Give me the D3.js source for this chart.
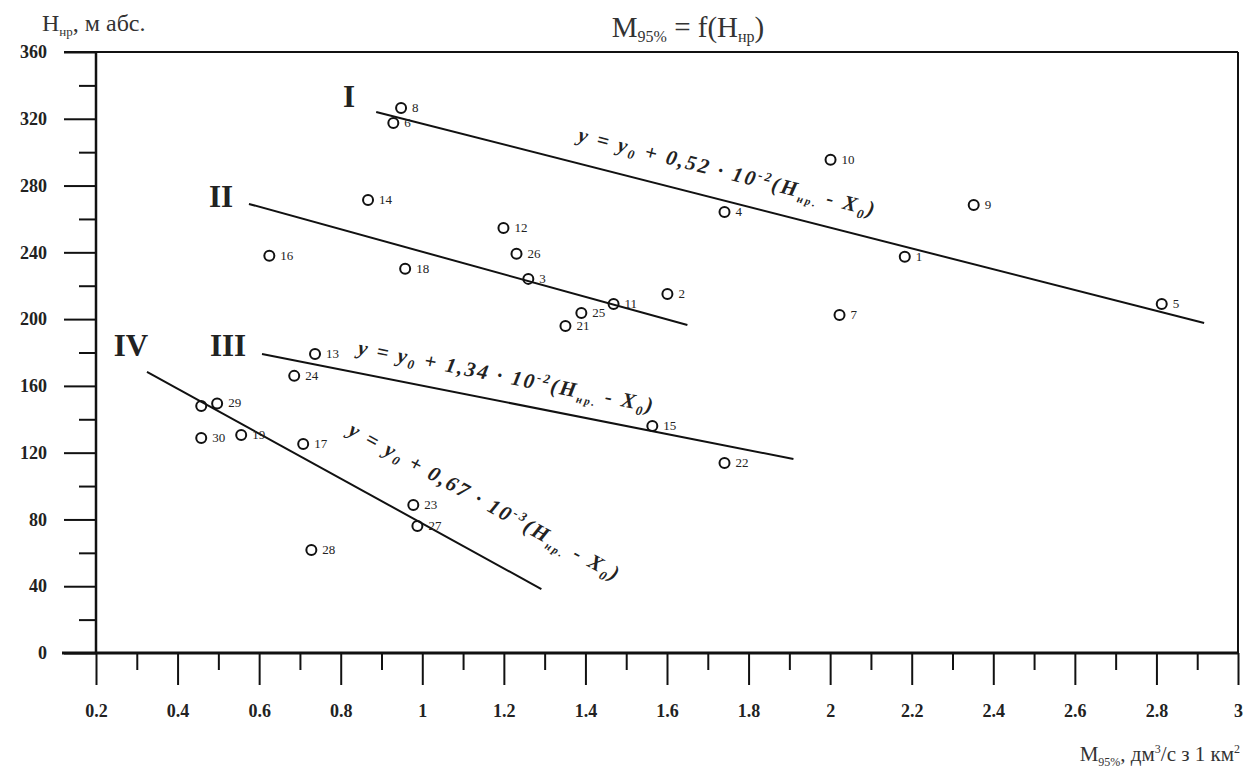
<!DOCTYPE html>
<html>
<head>
<meta charset="utf-8">
<script src="https://cdn.jsdelivr.net/npm/d3@7"></script>
<style>
  body { margin: 0; background: #fff; }
</style>
</head>
<body>
<div id="chart"></div>
<script>
// data
var ptLabels = ["8","6","10","9","4","1","5","7","14","12","26","16","18","3","2","11","25","21","13","24","15","22","","29","30","19","17","23","27","28"];
var ptX = [0.948,0.929,2.001,2.352,1.741,2.183,2.813,2.023,0.867,1.199,1.231,0.625,0.958,1.26,1.601,1.469,1.39,1.351,0.737,0.686,1.564,1.741,0.458,0.497,0.458,0.556,0.708,0.978,0.988,0.728];
var ptY = [326.5,317.5,295.4,268.4,264.2,237.3,209.1,202.5,271.4,254.6,239.1,237.9,230.1,224.1,215.1,209.1,203.7,195.9,179.1,166.0,136.0,113.8,148,149.5,128.8,130.6,125.2,88.7,76.1,61.7];

var lineNames = ["I","II","III","IV"];
var lineX1 = [0.887,0.575,0.607,0.325];
var lineY1 = [324.1,269.0,179.1,168.4];
var lineX2 = [2.917,1.650,1.910,1.292];
var lineY2 = [197.7,196.5,116.2,38.3];

var yMajor = d3.range(0, 361, 40);
var yMinor = d3.range(20, 360, 40);
var xMajor = [0.2,0.4,0.6,0.8,1,1.2,1.4,1.6,1.8,2,2.2,2.4,2.6,2.8,3];
var xMinor = [0.3,0.5,0.7,0.9,1.1,1.3,1.5,1.7,1.9,2.1,2.3,2.5,2.7,2.9];

var serif = "'Liberation Serif', 'DejaVu Serif', serif";
var svgWidth = 1256, svgHeight = 769;
var svg = d3.select("#chart").append("svg").attr("width", svgWidth).attr("height", svgHeight)
  .style("font-family", serif);

var x = d3.scaleLinear().domain([0.2, 3]).range([96, 1238]);
var y = d3.scaleLinear().domain([0, 360]).range([653, 52]);

// frame (top + right)
svg.append("line").attr("x1", x(0.2) - 32).attr("x2", x(3)).attr("y1", y(360)).attr("y2", y(360)).attr("stroke", "#111").attr("stroke-width", 2);
svg.append("line").attr("x1", x(3)).attr("x2", x(3)).attr("y1", y(360)).attr("y2", y(0)).attr("stroke", "#111").attr("stroke-width", 2);

// y axis
svg.append("g").attr("transform", `translate(${x(0.2)},0)`)
  .call(d3.axisLeft(y).tickValues(yMajor).tickSize(32).tickPadding(17).tickFormat(d3.format("d")));
svg.append("g").attr("transform", `translate(${x(0.2)},0)`)
  .call(d3.axisLeft(y).tickValues(yMinor).tickSize(17).tickFormat(""));

// x axis
svg.append("g").attr("transform", `translate(0,${y(0)})`)
  .call(d3.axisBottom(x).tickValues(xMajor).tickSize(32).tickPadding(19).tickFormat(d => String(d)));
svg.append("g").attr("transform", `translate(0,${y(0)})`)
  .call(d3.axisBottom(x).tickValues(xMinor).tickSize(17).tickFormat(""));

svg.selectAll(".domain").remove();
svg.selectAll(".tick line").attr("stroke", "#111").attr("stroke-width", 2);
svg.selectAll(".tick text")
  .style("font-family", serif).style("font-size", "18px").style("font-weight", "bold").style("fill", "#222");

// thick axis lines
svg.append("line").attr("x1", x(0.2) - 34).attr("x2", x(3)).attr("y1", y(0)).attr("y2", y(0)).attr("stroke", "#111").attr("stroke-width", 3);
svg.append("line").attr("x1", x(0.2)).attr("x2", x(0.2)).attr("y1", y(360)).attr("y2", y(0)).attr("stroke", "#111").attr("stroke-width", 2.5);

// regression lines
var lines = svg.append("g");
lineNames.forEach(function(n, i) {
  lines.append("line")
    .attr("x1", x(lineX1[i])).attr("y1", y(lineY1[i]))
    .attr("x2", x(lineX2[i])).attr("y2", y(lineY2[i]))
    .attr("stroke", "#111").attr("stroke-width", 2);
});

// roman numerals
var romanPos = [[349, 107], [221, 207], [228, 356], [131, 356]];
lineNames.forEach(function(n, i) {
  svg.append("text").attr("x", romanPos[i][0]).attr("y", romanPos[i][1])
    .attr("text-anchor", "middle").style("font-size", "31px").style("font-weight", "bold").style("fill", "#222").text(n);
});

// equations
function equation(px, py, angle, coef, exp, len) {
  var t = svg.append("text").attr("transform", `translate(${px},${py}) rotate(${angle})`)
    .attr("textLength", len).attr("lengthAdjust", "spacing")
    .style("font-size", "21px").style("font-style", "italic").style("font-weight", "bold").style("fill", "#222");
  t.append("tspan").text("y = y");
  t.append("tspan").attr("dy", 4).style("font-size", "13px").text("0");
  t.append("tspan").attr("dy", -4).text(" + " + coef + " · 10");
  t.append("tspan").attr("dy", -8).style("font-size", "13px").text(exp);
  t.append("tspan").attr("dy", 8).text("(H");
  t.append("tspan").attr("dy", 5).style("font-size", "11px").text("нр.");
  t.append("tspan").attr("dy", -5).text(" - X");
  t.append("tspan").attr("dy", 5).style("font-size", "13px").text("0");
  t.append("tspan").attr("dy", -5).text(")");
}
equation(577, 141, 14.3, "0,52", "-2", 305);
equation(357, 354, 11.2, "1,34", "-2", 300);
equation(347, 434, 28.8, "0,67", "-3", 305);

// points
var pts = svg.append("g").selectAll("g").data(ptX).enter().append("g");
pts.append("text")
  .attr("x", (d, i) => x(d) + 11)
  .attr("y", (d, i) => y(ptY[i]) + 4)
  .style("font-size", "13px").style("fill", "#222")
  .text((d, i) => ptLabels[i]);
pts.append("circle")
  .attr("cx", d => x(d))
  .attr("cy", (d, i) => y(ptY[i]))
  .attr("r", 5)
  .attr("fill", "none")
  .attr("stroke", "#111")
  .attr("stroke-width", 2);

// titles
var title = svg.append("text").attr("x", 688).attr("y", 37).attr("text-anchor", "middle").style("font-size", "29px").style("fill", "#333");
title.append("tspan").text("M");
title.append("tspan").attr("dy", 5).style("font-size", "16px").text("95%");
title.append("tspan").attr("dy", -5).text(" = f(H");
title.append("tspan").attr("dy", 5).style("font-size", "16px").text("нр");
title.append("tspan").attr("dy", -5).text(")");

var yLab = svg.append("text").attr("x", 42).attr("y", 31).style("font-size", "24px").style("fill", "#333");
yLab.append("tspan").text("H");
yLab.append("tspan").attr("dy", 5).style("font-size", "13px").text("нр");
yLab.append("tspan").attr("dy", -5).text(", м абс.");

var xLab = svg.append("text").attr("x", 1240).attr("y", 761).attr("text-anchor", "end").style("font-size", "21px").style("fill", "#333");
xLab.append("tspan").text("M");
xLab.append("tspan").attr("dy", 5).style("font-size", "12px").text("95%");
xLab.append("tspan").attr("dy", -5).text(", дм");
xLab.append("tspan").attr("dy", -8).style("font-size", "12px").text("3");
xLab.append("tspan").attr("dy", 8).text("/с з 1 км");
xLab.append("tspan").attr("dy", -8).style("font-size", "12px").text("2");
</script>
</body>
</html>
